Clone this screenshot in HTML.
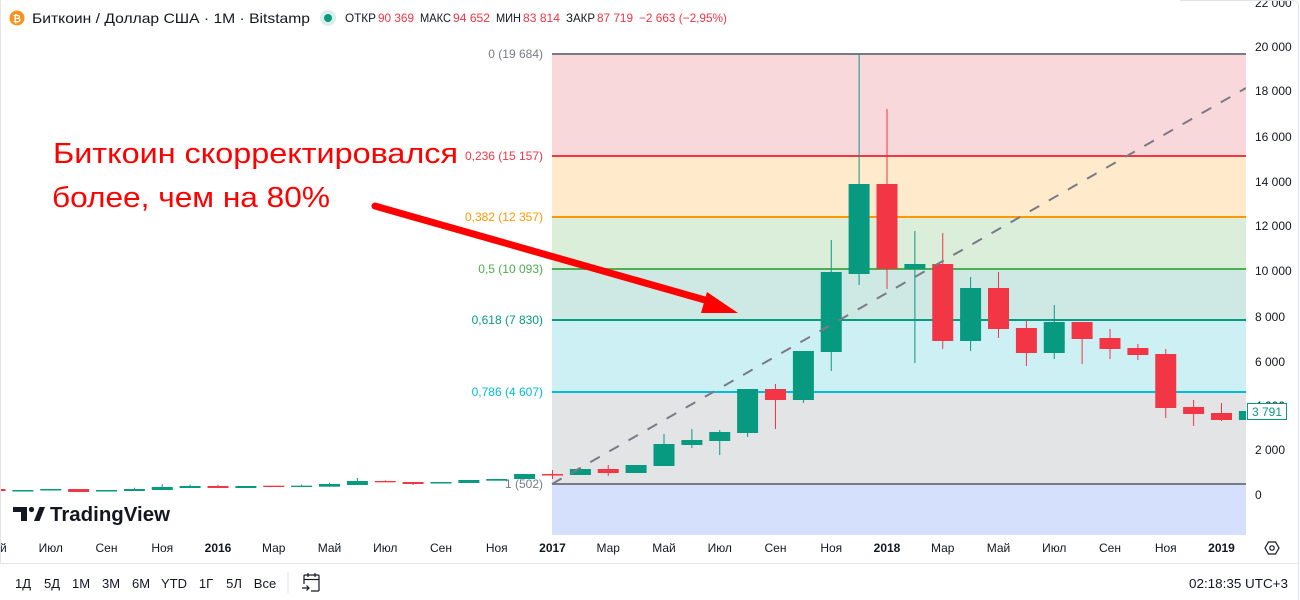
<!DOCTYPE html>
<html>
<head>
<meta charset="utf-8">
<style>
  html,body{margin:0;padding:0;background:#fff;}
  body{width:1300px;height:600px;overflow:hidden;}
  svg{display:block;}
  text{font-family:"Liberation Sans","Noto Sans CJK SC",sans-serif;}
</style>
</head>
<body>
<svg width="1300" height="600" viewBox="0 0 1300 600" xmlns="http://www.w3.org/2000/svg">
  <defs>
    <clipPath id="plot"><rect x="0" y="0" width="1246" height="535"/></clipPath>
  </defs>
  <rect x="0" y="0" width="1300" height="600" fill="#ffffff"/>

  <g clip-path="url(#plot)">
    <!-- Fib backgrounds -->
    <rect x="552" y="54" width="694" height="102" fill="#f9d8db"/>
    <rect x="552" y="156" width="694" height="61" fill="#ffeacc"/>
    <rect x="552" y="217" width="694" height="52" fill="#dbeeda"/>
    <rect x="552" y="269" width="694" height="51" fill="#cee9e3"/>
    <rect x="552" y="320" width="694" height="72" fill="#ccf0f3"/>
    <rect x="552" y="392" width="694" height="92" fill="#e3e4e6"/>
    <rect x="552" y="484" width="694" height="51" fill="#d4e0fc"/>
    <!-- Fib lines -->
    <rect x="552" y="53" width="694" height="2" fill="#787b86"/>
    <rect x="552" y="155" width="694" height="2" fill="#f23645"/>
    <rect x="552" y="216" width="694" height="2" fill="#ff9800"/>
    <rect x="552" y="268" width="694" height="2" fill="#4caf50"/>
    <rect x="552" y="319" width="694" height="2" fill="#089981"/>
    <rect x="552" y="391" width="694" height="2" fill="#00bcd4"/>
    <rect x="552" y="483" width="694" height="2" fill="#787b86"/>

    <!-- Candles -->
    <g fill="#089981">
      <rect x="12.4" y="490" width="21" height="1.5"/>
      <rect x="40.25" y="489" width="21" height="1.5"/>
      <rect x="96" y="490" width="21" height="1.5"/>
      <rect x="123.9" y="489" width="21" height="2"/><rect x="133.9" y="487.7" width="1" height="3.3"/>
      <rect x="151.75" y="487" width="21" height="3"/><rect x="161.75" y="484" width="1" height="6"/>
      <rect x="179.6" y="486" width="21" height="2"/><rect x="189.6" y="484.7" width="1" height="3.3"/>
      <rect x="235.4" y="486" width="21" height="2"/>
      <rect x="291.1" y="485.7" width="21" height="1.3"/><rect x="301.1" y="484.7" width="1" height="2.3"/>
      <rect x="319" y="484" width="21" height="2.7"/><rect x="329" y="482.7" width="1" height="4"/>
      <rect x="346.9" y="481" width="21" height="4"/><rect x="356.9" y="478" width="1" height="7"/>
      <rect x="430.5" y="482" width="21" height="1.5"/>
      <rect x="458.4" y="480" width="21" height="3"/>
      <rect x="486.25" y="479" width="21" height="1.7"/>
      <rect x="514.1" y="474" width="21" height="5"/>
      <rect x="569.9" y="469" width="21" height="6"/><rect x="579.9" y="468" width="1" height="7"/>
      <rect x="625.6" y="465" width="21" height="8"/>
      <rect x="653.5" y="444" width="21" height="22"/><rect x="663.5" y="434" width="1" height="32"/>
      <rect x="681.4" y="440" width="21" height="5"/><rect x="691.4" y="429" width="1" height="19"/>
      <rect x="709.25" y="432" width="21" height="9"/><rect x="719.25" y="430" width="1" height="25"/>
      <rect x="737.1" y="389" width="21" height="44"/><rect x="747.1" y="389" width="1" height="48"/>
      <rect x="792.9" y="351" width="21" height="49"/><rect x="802.9" y="351" width="1" height="52"/>
      <rect x="820.75" y="272" width="21" height="80"/><rect x="830.75" y="240" width="1" height="131"/>
      <rect x="848.6" y="184" width="21" height="90"/><rect x="858.6" y="54" width="1" height="231"/>
      <rect x="904.4" y="264" width="21" height="5"/><rect x="914.4" y="231" width="1" height="132"/>
      <rect x="960.1" y="288" width="21" height="53"/><rect x="970.1" y="277" width="1" height="74"/>
      <rect x="1043.75" y="322" width="21" height="31"/><rect x="1053.75" y="305" width="1" height="54"/>
      <rect x="1238.9" y="411" width="21" height="9"/>
    </g>
    <g fill="#f23645">
      <rect x="-15.5" y="489" width="21" height="2"/>
      <rect x="68.1" y="489" width="21" height="3"/>
      <rect x="207.5" y="486" width="21" height="2"/><rect x="217.5" y="484.7" width="1" height="3.3"/>
      <rect x="263.25" y="485.7" width="21" height="1.3"/>
      <rect x="374.75" y="481" width="21" height="1.3"/><rect x="384.75" y="480.3" width="1" height="2"/>
      <rect x="402.6" y="482" width="21" height="2"/><rect x="412.6" y="482" width="1" height="3"/>
      <rect x="542" y="474" width="21" height="1.5"/><rect x="552" y="470" width="1" height="9"/>
      <rect x="597.75" y="469" width="21" height="4"/><rect x="607.75" y="465" width="1" height="11"/>
      <rect x="765" y="389" width="21" height="11"/><rect x="775" y="384" width="1" height="45"/>
      <rect x="876.5" y="184" width="21" height="85"/><rect x="886.5" y="109" width="1" height="180"/>
      <rect x="932.25" y="264" width="21" height="77"/><rect x="942.25" y="233" width="1" height="116"/>
      <rect x="988" y="288" width="21" height="41"/><rect x="998" y="272" width="1" height="66"/>
      <rect x="1015.9" y="328" width="21" height="25"/><rect x="1025.9" y="320" width="1" height="46"/>
      <rect x="1071.6" y="322" width="21" height="17"/><rect x="1081.6" y="322" width="1" height="42"/>
      <rect x="1099.5" y="338" width="21" height="11"/><rect x="1109.5" y="329" width="1" height="30"/>
      <rect x="1127.4" y="348" width="21" height="7"/><rect x="1137.4" y="344" width="1" height="16"/>
      <rect x="1155.25" y="354" width="21" height="54"/><rect x="1165.25" y="349" width="1" height="69"/>
      <rect x="1183.1" y="407" width="21" height="7"/><rect x="1193.1" y="400" width="1" height="26"/>
      <rect x="1211" y="413" width="21" height="7"/><rect x="1221" y="403" width="1" height="18"/>
    </g>

    <!-- dashed trend line -->
    <line x1="552" y1="484" x2="1246" y2="88" stroke="#787b86" stroke-width="2" stroke-dasharray="11 11"/>

    <!-- Fib labels -->
    <g font-size="12" text-anchor="end">
      <text x="543" y="58" fill="#787b86">0 (19 684)</text>
      <text x="543" y="160" fill="#f23645">0,236 (15 157)</text>
      <text x="543" y="221" fill="#ff9800">0,382 (12 357)</text>
      <text x="543" y="273" fill="#4caf50">0,5 (10 093)</text>
      <text x="543" y="324" fill="#089981">0,618 (7 830)</text>
      <text x="543" y="396" fill="#00bcd4">0,786 (4 607)</text>
      <text x="543" y="488" fill="#787b86">1 (502)</text>
    </g>

    <!-- annotation -->
    <text x="53" y="163" font-size="29" fill="#ff0000" textLength="405" lengthAdjust="spacingAndGlyphs">Биткоин скорректировался</text>
    <text x="52" y="207" font-size="29" fill="#ff0000" textLength="278" lengthAdjust="spacingAndGlyphs">более, чем на 80%</text>
    <line x1="375" y1="206" x2="712" y2="302" stroke="#ff0000" stroke-width="7" stroke-linecap="round"/>
    <polygon points="707,292 738,313 701,313" fill="#ff0000"/>

    <!-- TradingView logo -->
    <g fill="#131722">
      <rect x="13" y="507" width="14" height="5"/>
      <rect x="21" y="507" width="6" height="14"/>
      <circle cx="31.5" cy="509.5" r="2.6"/>
      <polygon points="34,521 39.5,507 45,507 39.5,521"/>
    </g>
    <text x="50" y="521" font-size="20" font-weight="bold" fill="#131722" textLength="120" lengthAdjust="spacingAndGlyphs">TradingView</text>
  </g>

  <!-- Header -->
  <circle cx="17" cy="18" r="7.5" fill="#f7931a"/>
  <text x="17" y="22" font-size="10" font-weight="bold" fill="#ffffff" text-anchor="middle">₿</text>
  <text x="32" y="23" font-size="14" fill="#131722" textLength="278" lengthAdjust="spacingAndGlyphs">Биткоин / Доллар США · 1М · Bitstamp</text>
  <circle cx="328" cy="18" r="8" fill="#dbefea"/>
  <circle cx="328" cy="18" r="4" fill="#089981"/>
  <g font-size="12">
    <text x="345" y="22" fill="#131722" textLength="31" lengthAdjust="spacingAndGlyphs">ОТКР</text>
    <text x="378" y="22" fill="#f23645" textLength="36" lengthAdjust="spacingAndGlyphs">90 369</text>
    <text x="420" y="22" fill="#131722" textLength="31" lengthAdjust="spacingAndGlyphs">МАКС</text>
    <text x="453" y="22" fill="#f23645" textLength="37" lengthAdjust="spacingAndGlyphs">94 652</text>
    <text x="496" y="22" fill="#131722" textLength="25" lengthAdjust="spacingAndGlyphs">МИН</text>
    <text x="523" y="22" fill="#f23645" textLength="37" lengthAdjust="spacingAndGlyphs">83 814</text>
    <text x="566" y="22" fill="#131722" textLength="29" lengthAdjust="spacingAndGlyphs">ЗАКР</text>
    <text x="597" y="22" fill="#f23645" textLength="36" lengthAdjust="spacingAndGlyphs">87 719</text>
    <text x="639" y="22" fill="#f23645" textLength="88" lengthAdjust="spacingAndGlyphs">−2 663 (−2,95%)</text>
  </g>

  <!-- Right price axis -->
  <g font-size="12" fill="#131722">
    <text x="1255" y="7">22 000</text>
    <text x="1255" y="51">20 000</text>
    <text x="1255" y="95">18 000</text>
    <text x="1255" y="141">16 000</text>
    <text x="1255" y="186">14 000</text>
    <text x="1255" y="230">12 000</text>
    <text x="1255" y="275">10 000</text>
    <text x="1255" y="321">8 000</text>
    <text x="1255" y="366">6 000</text>
    <text x="1255" y="410">4 000</text>
    <text x="1255" y="454">2 000</text>
    <text x="1255" y="499">0</text>
  </g>
  <rect x="1247.5" y="403.5" width="39" height="16" fill="#ffffff" stroke="#089981" stroke-width="1"/>
  <text x="1267" y="416" font-size="12" fill="#089981" text-anchor="middle">3 791</text>

  <!-- Time axis -->
  <g font-size="12" fill="#131722" text-anchor="middle">
    <text x="-5" y="552">Май</text>
    <text x="50.75" y="552">Июл</text>
    <text x="106.5" y="552">Сен</text>
    <text x="162.25" y="552">Ноя</text>
    <text x="218" y="552" font-weight="bold">2016</text>
    <text x="273.75" y="552">Мар</text>
    <text x="329.5" y="552">Май</text>
    <text x="385.25" y="552">Июл</text>
    <text x="441" y="552">Сен</text>
    <text x="496.75" y="552">Ноя</text>
    <text x="552.5" y="552" font-weight="bold">2017</text>
    <text x="608.25" y="552">Мар</text>
    <text x="664" y="552">Май</text>
    <text x="719.75" y="552">Июл</text>
    <text x="775.5" y="552">Сен</text>
    <text x="831.25" y="552">Ноя</text>
    <text x="887" y="552" font-weight="bold">2018</text>
    <text x="942.75" y="552">Мар</text>
    <text x="998.5" y="552">Май</text>
    <text x="1054.25" y="552">Июл</text>
    <text x="1110" y="552">Сен</text>
    <text x="1165.75" y="552">Ноя</text>
    <text x="1221.5" y="552" font-weight="bold">2019</text>
  </g>
  <!-- settings icon -->
  <polygon points="1265,548 1268.5,542 1275.5,542 1279,548 1275.5,554 1268.5,554" fill="none" stroke="#131722" stroke-width="1.2"/>
  <circle cx="1272" cy="548" r="2.2" fill="none" stroke="#131722" stroke-width="1.2"/>

  <!-- borders -->
  <line x1="0.5" y1="0" x2="0.5" y2="563" stroke="#e0e3eb" stroke-width="1"/>
  <path d="M1180 0.5 L1292 0.5 Q1298.5 0.5 1298.5 7 L1298.5 600" fill="none" stroke="#e0e3eb" stroke-width="1"/>
  <line x1="0" y1="563.5" x2="1298" y2="563.5" stroke="#e0e3eb" stroke-width="1"/>

  <!-- bottom toolbar -->
  <g font-size="13" fill="#131722" text-anchor="middle">
    <text x="23" y="588">1Д</text>
    <text x="52" y="588">5Д</text>
    <text x="81" y="588">1М</text>
    <text x="111" y="588">3М</text>
    <text x="141" y="588">6М</text>
    <text x="174" y="588">YTD</text>
    <text x="206" y="588">1Г</text>
    <text x="234" y="588">5Л</text>
    <text x="265" y="588">Все</text>
  </g>
  <line x1="288" y1="572" x2="288" y2="593" stroke="#e0e3eb" stroke-width="1"/>
  <!-- calendar icon -->
  <g fill="none" stroke="#131722" stroke-width="1.2">
    <path d="M304 584 L304 576 Q304 575 305 575 L318 575 Q319 575 319 576 L319 590 Q319 591 318 591 L311 591"/>
    <line x1="304" y1="579.5" x2="319" y2="579.5"/>
    <line x1="308" y1="573" x2="308" y2="577"/>
    <line x1="315" y1="573" x2="315" y2="577"/>
    <path d="M302 588 L309 588 M306.5 585.5 L309 588 L306.5 590.5"/>
  </g>
  <text x="1288" y="588" font-size="13" fill="#131722" text-anchor="end" textLength="99" lengthAdjust="spacingAndGlyphs">02:18:35 UTC+3</text>
</svg>
</body>
</html>
